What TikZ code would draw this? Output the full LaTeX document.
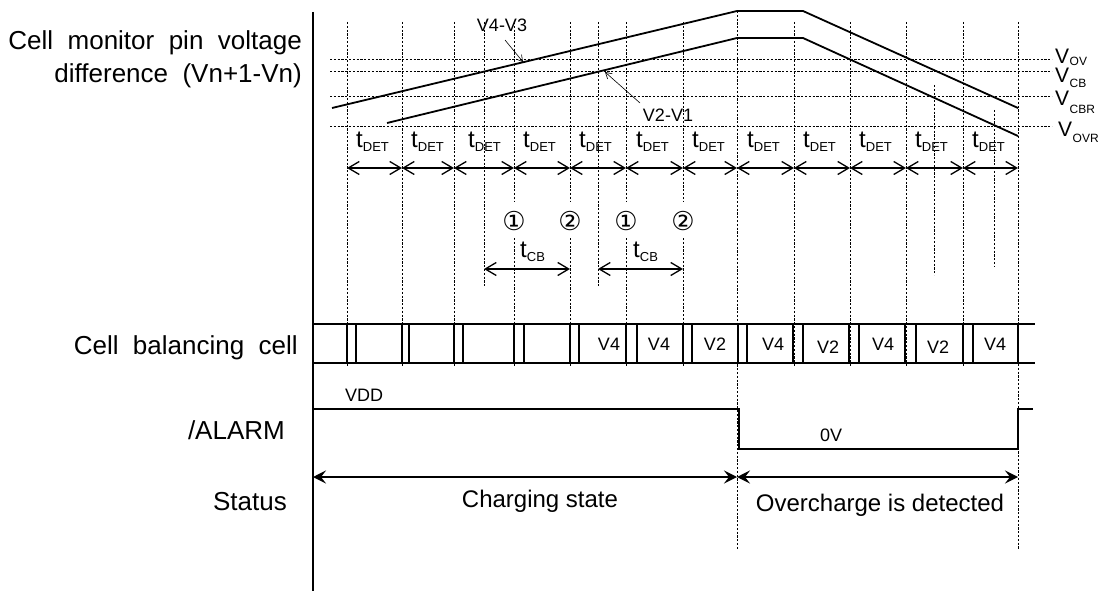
\documentclass[tikz,border=0pt]{standalone}
\usepackage{fontspec}
\setmainfont{Liberation Sans}
\newfontfamily\dejavu{DejaVu Sans}
\usetikzlibrary{arrows.meta}
\newcommand\tsub[1]{t\raisebox{-4pt}{\fontsize{13}{13}\selectfont #1}}
\newcommand\vsub[2]{V\kern0.5pt\raisebox{#2}{\fontsize{12}{12}\selectfont #1}}
\tikzset{
 grid/.style={line width=0.6pt, dash pattern=on 2.2pt off 1.6pt},
 wave/.style={line width=1.8pt},
 det/.style={line width=1.3pt, {Straight Barb[length=11pt,width=13pt,line width=1.3pt]}-{Straight Barb[length=11pt,width=13pt,line width=1.3pt]}},
 stat/.style={line width=1.6pt, {Stealth[length=13pt,width=13pt,inset=5pt]}-{Stealth[length=13pt,width=13pt,inset=5pt]}},
 lbl/.style={font=\fontsize{26}{30}\selectfont, anchor=base east, inner sep=0pt},
 sml/.style={font=\fontsize{18}{20}\selectfont, inner sep=0pt},
 tlbl/.style={font=\fontsize{24}{26}\selectfont, anchor=base west, inner sep=0pt},
 vlbl/.style={font=\fontsize{21}{23}\selectfont, anchor=base west, inner sep=0pt},
 circ/.style={font=\dejavu\fontsize{26}{28}\selectfont, inner sep=0pt},
 row/.style={line width=1.3pt},
 pointer/.style={line width=0.6pt, -{Straight Barb[length=6pt,width=7pt,line width=0.6pt]}},
}
\begin{document}
\begin{tikzpicture}[x=1pt,y=-1pt]
\useasboundingbox (0,0) rectangle (1106,591);

% axis
\coordinate (axtop) at (313,12);
\coordinate (axbot) at (313,591);
\draw[line width=1.5pt] (axtop) -- (axbot);

% left labels
\node[lbl] (l1) at (302,50) {Cell\ \ monitor\ \ pin\ \ voltage};
\node[lbl] (l2) at (302,83) {difference\ \ (Vn+1-Vn)};
\node[lbl] (l3) at (298,354) {Cell\ \ balancing\ \ cell};
\node[lbl] (l4) at (285,439) {/ALARM};
\node[lbl] (l5) at (287,510) {Status};

% horizontal thresholds
\foreach \y/\n in {59/ov,71/cb,96/cbr,126/ovr}{
  \coordinate (h\n a) at (330,\y);
  \coordinate (h\n b) at (1052,\y);
  \draw[grid] (h\n a) -- (h\n b);
}
\node[vlbl] (vov) at (1055,64) {\vsub{OV}{-2pt}};
\node[vlbl] (vcb) at (1055,83) {\vsub{CB}{-5pt}};
\node[vlbl] (vcbr) at (1055,106) {\vsub{CBR}{-8pt}};
\node[vlbl] (vovr) at (1058,137) {\vsub{OVR}{-6pt}};

% vertical grid lines
\foreach \x in {347,402,454,794,850,906,963}{
  \coordinate (g\x a) at (\x,22);
  \coordinate (g\x b) at (\x,366);
  \draw[grid] (g\x a) -- (g\x b);
}
\foreach \x in {514,570,626,683}{
  \coordinate (g\x a) at (\x,22);
  \coordinate (g\x b) at (\x,202);
  \coordinate (g\x c) at (\x,238);
  \coordinate (g\x d) at (\x,366);
  \draw[grid] (g\x a) -- (g\x b);
  \draw[grid] (g\x c) -- (g\x d);
}
\coordinate (g737a) at (737,11);
\coordinate (g737b) at (737,549);
\draw[grid] (g737a) -- (g737b);
\coordinate (g1018a) at (1018,22);
\coordinate (g1018b) at (1018,549);
\draw[grid] (g1018a) -- (g1018b);
\foreach \x/\ya/\yb in {484/22/287,598/22/287,934/85/275,994/110/267}{
  \coordinate (s\x a) at (\x,\ya);
  \coordinate (s\x b) at (\x,\yb);
  \draw[grid] (s\x a) -- (s\x b);
}

% waveforms
\coordinate (u0) at (332,108);
\coordinate (u1) at (737,11);
\coordinate (u2) at (803,11);
\coordinate (u3) at (1018,108);
\draw[wave] (u0) -- (u1) -- (u2) -- (u3);
\coordinate (w0) at (387,123);
\coordinate (w1) at (737,38);
\coordinate (w2) at (803,38);
\coordinate (w3) at (1018,136);
\draw[wave] (w0) -- (w1) -- (w2) -- (w3);

\node[sml] (v43) at (502,25) {V4-V3};
\coordinate (p43s) at (505,40);
\coordinate (p43) at (523,62);
\draw[pointer] (p43s) -- (p43);
\node[sml] (v21) at (668,115) {V2-V1};
\coordinate (p21s) at (640,103);
\coordinate (p21) at (605,72);
\draw[pointer] (p21s) -- (p21);

% tDET arrows and labels
\foreach \x [count=\i] in {347,402,454,514,570,626,683,737,794,850,906,963,1018}{
  \coordinate (b\i) at (\x,168);
}
\foreach \i in {1,...,12}{
  \pgfmathtruncatemacro{\j}{\i+1}
  \draw[det] (b\i) -- (b\j);
}
\foreach \x [count=\i] in {356,411,468,523,579,636,692,747,803,859,915,972}{
  \node[tlbl] (td\i) at (\x,148) {\tsub{DET}};
}

% circled numbers
\node[circ] (c1a) at (514,221) {①};
\node[circ] (c2a) at (570,221) {②};
\node[circ] (c1b) at (626,221) {①};
\node[circ] (c2b) at (683,221) {②};

% tCB
\coordinate (cb1a) at (484,269);
\coordinate (cb1b) at (570,269);
\coordinate (cb2a) at (598,269);
\coordinate (cb2b) at (683,269);
\draw[det] (cb1a) -- (cb1b);
\draw[det] (cb2a) -- (cb2b);
\node[tlbl] (tcb1) at (520,257) {\tsub{CB}};
\node[tlbl] (tcb2) at (633,257) {\tsub{CB}};

% cell balancing row
\coordinate (rtl) at (313,324);
\coordinate (rtr) at (1035,324);
\coordinate (rbl) at (313,363);
\coordinate (rbr) at (1035,363);
\draw[row] (rtl) -- (rtr);
\draw[row] (rbl) -- (rbr);
\foreach \x in {347,356,402,409,454,463,514,524,570,579,626,637,683,692,738,747,793,803,849,859,905,916,963,973,1018}{
  \coordinate (rt\x) at (\x,324);
  \coordinate (rb\x) at (\x,363);
  \draw[row] (rt\x) -- (rb\x);
}
\foreach \x/\t/\y [count=\i] in {609/V4/344,659/V4/344,715/V2/344,773/V4/344,828/V2/347,883/V4/344,938/V2/347,995/V4/344}{
  \node[sml] (cell\i) at (\x,\y) {\t};
}

% ALARM
\coordinate (a0) at (313,409);
\coordinate (a1) at (739,409);
\coordinate (a2) at (739,449);
\coordinate (a3) at (1018,449);
\coordinate (a4) at (1018,409);
\coordinate (a5) at (1033,409);
\draw[row] (a0) -- (a1) -- (a2) -- (a3) -- (a4) -- (a5);
\node[sml] (vdd) at (364,395) {VDD};
\node[sml] (zv) at (831,435) {0V};

% Status
\coordinate (s0) at (313,477);
\coordinate (s1) at (737,477);
\coordinate (s2) at (1018,477);
\draw[stat] (s0) -- (s1);
\draw[stat] (s1) -- (s2);
\node[font=\fontsize{24}{26}\selectfont, anchor=base, inner sep=0pt] (chg) at (540,507) {Charging state};
\node[font=\fontsize{24}{26}\selectfont, anchor=base, inner sep=0pt] (ovc) at (880,511) {Overcharge is detected};
\end{tikzpicture}
\end{document}
